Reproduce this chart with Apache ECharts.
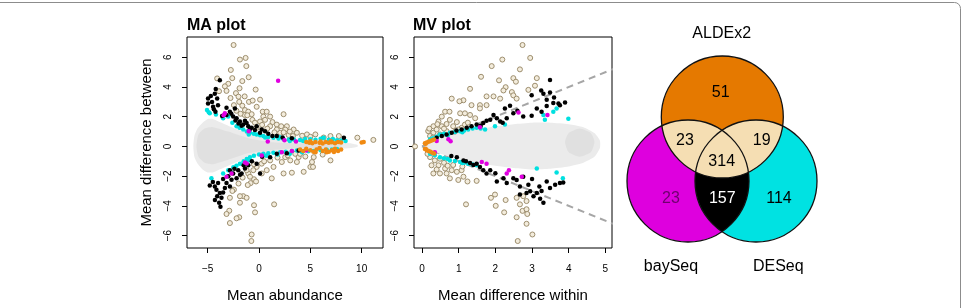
<!DOCTYPE html>
<html>
<head>
<meta charset="utf-8">
<script src="https://cdn.jsdelivr.net/npm/echarts@6/dist/echarts.min.js"></script>
<style>
  html, body { margin: 0; background: #fff; }
  #chart { width: 966px; height: 308px; }
</style>
</head>
<body>
<div id="chart"></div>
<script>
// ---- data ----
const yTicks = [-6, -4, -2, 0, 2, 4, 6];
const maTicks = [-5, 0, 5, 10];
const mvTicks = [0, 1, 2, 3, 4, 5];

// outline of the dense grey cloud of all features
const maCloud = [[-6.4,0],[-6.3,0.7],[-6.0,1.2],[-5.5,1.6],[-5.0,1.85],[-4.5,1.85],[-4.0,1.7],[-3.0,1.4],[-2.0,1.1],[-1.0,0.85],[0,0.65],[1,0.52],[2,0.45],[3,0.4],[4,0.36],[5,0.34],[6,0.32],[7,0.3],[8,0.28],[9,0.2],[9.6,0.1],
  [9.6,-0.02],[9,-0.1],[8,-0.15],[7,-0.2],[6,-0.22],[5,-0.25],[4,-0.28],[3,-0.32],[2,-0.38],[1,-0.46],[0,-0.58],[-1,-0.75],[-2,-1.0],[-3,-1.3],[-4,-1.6],[-4.5,-1.75],[-5,-1.75],[-5.5,-1.55],[-6,-1.15],[-6.3,-0.7]];
const maCore = [[-6.1,0],[-5.9,0.8],[-5.3,1.2],[-4.5,1.3],[-3,1.0],[-1,0.55],[1,0.3],[4,0.2],[8,0.15],[8,-0.05],[4,-0.12],[1,-0.25],[-1,-0.45],[-3,-0.9],[-4.5,-1.2],[-5.3,-1.1],[-5.9,-0.7]];
const mvCloud = [[0.08,0],[0.2,0.2],[0.5,0.55],[1,0.9],[1.5,1.15],[2,1.35],[2.5,1.5],[3,1.6],[3.5,1.6],[4,1.5],[4.4,1.3],[4.7,0.9],[4.85,0.4],
  [4.85,-0.1],[4.7,-0.7],[4.4,-1.1],[4,-1.35],[3.5,-1.5],[3,-1.55],[2.5,-1.45],[2,-1.3],[1.5,-1.1],[1,-0.85],[0.5,-0.5],[0.2,-0.2]];
const mvCore = [[3.9,0.3],[4.0,0.9],[4.3,1.2],[4.6,0.9],[4.7,0.3],[4.6,-0.4],[4.3,-0.7],[4.0,-0.4]];

const maTan = [[-2.48,6.83],[-1.86,5.85],[-1.31,5.96],[-1.24,5.41],[-2.75,5.15],[-1.01,4.66],[-4.08,4.58],[-2.61,4.6],[-1.63,4.4],[-3.0,4.22],[-1.9,3.92],[-3.33,4.05],[-0.33,3.83],[-3.9,3.72],[-3.17,3.74],[-2.25,3.59],[-2.0,3.35],[-1.4,3.37],[-2.78,3.26],[-0.98,3.0],[-0.62,3.09],[0.1,3.15],[-1.93,3.0],[-2.45,2.78],[-1.63,2.74],[-0.23,2.67],[-1.37,2.45],[-1.05,2.34],[0.36,2.34],[0.75,2.34],[-0.72,2.17],[-1.4,2.12],[-1.15,2.1],[2.39,2.17],[0.42,2.01],[1.08,2.01],[0.59,1.79],[-0.65,1.79],[0.1,1.68],[1.31,1.64],[1.73,1.47],[2.16,1.36],[2.71,1.36],[2.55,1.14],[3.37,1.14],[1.08,1.36],[-0.23,1.25],[3.69,0.92],[4.67,0.81],[5.49,0.81],[6.96,0.7],[7.78,0.7],[9.58,0.59],[11.14,0.44],[2.88,0.77],[2.06,0.92],[1.73,1.14],[0.8,1.2],[1.5,0.95],[2.4,0.95],[3.0,1.0],[4.2,0.72],[5.0,0.65],[3.3,0.7],[6.3,0.6],[-2.2,2.4],[-1.8,2.2],[-0.4,1.6],[0.3,1.45],
  [3.53,-0.5],[3.86,-0.72],[3.04,-0.94],[2.55,-0.72],[2.22,-1.05],[3.69,-1.05],[4.51,-0.68],[5.33,-0.72],[5.16,-1.05],[6.96,-0.94],[5.0,-1.38],[5.26,-1.38],[4.35,-1.71],[3.2,-1.77],[2.39,-1.82],[1.41,-1.38],[0.75,-1.6],[1.24,-2.15],[0.26,-1.82],[-0.23,-1.38],[-0.56,-1.6],[-1.05,-1.82],[-0.49,-2.21],[-0.82,-2.47],[-0.29,-2.36],[0.26,-1.16],[1.08,-0.94],[-1.54,-3.35],[-1.86,-3.35],[-1.21,-3.46],[-2.84,-3.46],[-1.86,-3.79],[-2.9,-4.33],[-3.17,-4.55],[-0.49,-3.96],[-0.39,-4.44],[1.47,-3.9],[-1.93,-4.77],[-2.19,-4.84],[-2.84,-5.16],[-0.72,-5.93],[-0.75,-6.37],[-1.21,-1.6],[-0.88,-2.04],[-2.45,-2.91],[1.8,-0.75],[2.8,-0.6],[0.5,-1.0],[-0.5,-1.2],[-1.6,-2.1],[-2.0,-2.5],[4.0,-0.5],[6.2,-0.55],[-1.1,-2.6],[-2.6,-3.0]];
const maBlack = [[-3.82,4.46],[-4.22,3.87],[-4.31,3.55],[-4.97,3.22],[-4.97,2.89],[-4.58,3.0],[-4.08,3.22],[-4.48,2.67],[-4.0,2.78],[-4.25,2.34],[-3.17,2.6],[-2.84,2.34],[-2.35,2.56],[-3.17,2.12],[-2.52,2.01],[-2.19,1.9],[-1.86,1.68],[-1.37,1.73],[-1.54,1.47],[-1.05,1.36],[-0.72,1.25],[-0.23,1.36],[0.26,1.14],[0.1,0.92],[0.59,1.03],[1.73,0.7],[8.27,0.59],[-1.21,1.57],[-0.4,1.1],[-4.7,3.4],[-4.4,2.5],[-2.7,2.2],[-2.0,1.55],[-1.7,1.4],[-0.9,1.15],[0.9,0.85],[1.3,0.7],[2.3,0.6],[3.2,0.55],[-3.6,2.05],[-2.3,1.75],
  [-4.8,-2.63],[-4.31,-2.69],[-3.99,-2.47],[-4.15,-2.91],[-3.82,-3.13],[-4.08,-3.35],[-3.66,-3.46],[-3.89,-3.79],[-3.76,-4.07],[-3.33,-2.8],[-3.17,-2.47],[-2.84,-2.69],[-2.68,-2.25],[-2.19,-2.15],[-2.03,-1.6],[-1.7,-1.82],[-1.37,-1.49],[-1.05,-1.27],[-1.5,-1.27],[-1.85,-1.9],[-2.52,-1.82],[-2.84,-1.6],[0.1,-1.82],[-0.23,-1.16],[1.08,-0.72],[1.73,-0.5],[2.71,-0.46],[3.86,-0.28],[-4.5,-2.4],[-3.5,-2.2],[-3.0,-2.0],[-2.4,-1.5],[-0.7,-1.0],[0.3,-0.7],[-4.3,-3.6],[-3.5,-3.1]];
const maCyan = [[-5.07,2.45],[-4.9,2.3],[-4.8,2.23],[-4.2,2.15],[-3.0,2.01],[-2.6,1.6],[-2.19,1.36],[-1.9,1.25],[-1.54,1.14],[-1.2,1.0],[-0.88,0.92],[-0.5,0.86],[-0.23,0.81],[0.1,0.75],[0.42,0.7],[0.9,0.64],[1.4,0.59],[1.9,0.53],[2.39,0.48],[2.9,0.47],[3.4,0.46],[4.0,0.44],[4.5,0.5],[5.0,0.48],[5.5,0.45],[6.0,0.52],[6.3,0.59],[6.8,0.45],[7.2,0.5],[7.6,0.42],[8.0,0.4],[8.43,0.37],[-3.5,1.9],[-1.0,0.8],[0.6,0.6],[2.0,0.62],[3.0,0.36],[4.3,0.36],
  [-4.64,-2.15],[-3.5,-1.82],[-3.0,-1.6],[-2.5,-1.4],[-2.2,-1.3],[-1.86,-1.16],[-1.5,-1.0],[-1.2,-0.85],[-0.88,-0.72],[-0.5,-0.62],[0.0,-0.55],[0.42,-0.5],[0.9,-0.46],[1.4,-0.43],[2.06,-0.39],[2.6,-0.35],[3.2,-0.3],[3.69,-0.28],[4.2,-0.4],[4.8,-0.32],[5.3,-0.3],[6.0,-0.25],[6.6,-0.22],[7.1,-0.2],[7.6,-0.18],[-2.7,-1.75],[-1.0,-0.95],[0.7,-0.62],[1.8,-0.55],[3.0,-0.5]];
const maMagenta = [[1.86,4.42],[-3.33,2.23],[-3.45,2.1],[0.85,0.33],[2.48,0.42],[3.6,0.33],[0.26,-0.61],[2.22,-0.39],[-1.37,-1.09],[-1.2,-1.15],[-2.68,-1.82],[-3.17,-2.04],[4.58,-0.28],[-1.0,1.02],[3.2,-0.3]];
const maOrange = [[4.6,0.3],[4.9,0.25],[5.2,0.22],[5.5,0.3],[5.9,0.25],[6.2,0.2],[6.5,0.3],[6.8,0.24],[7.1,0.28],[7.4,0.22],[7.7,0.3],[8.0,0.26],[10.0,0.27],[10.2,0.3],[5.0,0.35],[6.0,0.33],[7.0,0.35],
  [4.0,-0.2],[4.3,-0.3],[4.6,-0.15],[5.0,-0.25],[5.3,-0.35],[5.6,-0.2],[5.9,-0.1],[6.2,-0.3],[6.5,-0.2],[6.8,-0.35],[7.1,-0.25],[7.4,-0.15],[7.7,-0.3],[8.0,-0.2],[5.5,-0.4],[6.6,-0.4],[7.3,-0.38]];

const mvTan = [[2.74,6.83],[2.95,5.96],[2.19,5.85],[1.9,5.41],[2.67,5.19],[1.61,4.69],[2.1,4.45],[2.49,4.6],[2.56,4.36],[3.13,4.6],[1.31,3.88],[2.28,3.99],[2.22,3.77],[2.45,3.66],[2.49,3.44],[1.76,3.37],[1.95,3.37],[2.9,3.81],[3.08,4.09],[0.81,3.22],[1.13,3.11],[1.02,3.04],[2.13,3.22],[2.58,3.22],[1.58,2.78],[1.35,2.78],[1.76,2.78],[0.63,2.34],[0.75,2.34],[0.54,2.01],[1.04,2.23],[1.17,2.23],[1.31,2.12],[1.58,2.56],[0.45,1.68],[0.76,1.79],[0.95,1.64],[0.31,1.36],[0.54,1.36],[0.67,1.51],[0.85,1.36],[1.08,1.25],[0.17,1.03],[0.31,0.92],[0.4,1.14],[0.49,0.81],[0.67,1.03],[0.99,1.14],[1.17,1.47],[0.22,0.7],[0.3,0.6],[0.6,1.2],[0.9,1.0],[1.25,1.6],[1.45,1.9],[0.2,1.2],[0.42,1.5],[-0.19,0],
  [0.22,-0.72],[0.35,-0.94],[0.49,-0.83],[0.26,-1.27],[0.45,-1.27],[0.63,-1.49],[0.81,-1.6],[0.31,-1.82],[0.49,-1.82],[0.67,-1.82],[0.95,-1.71],[1.08,-1.6],[0.76,-2.15],[0.99,-2.26],[1.13,-2.04],[1.24,-2.36],[1.49,-2.32],[1.2,-3.9],[1.88,-3.46],[1.99,-3.24],[2.01,-4.0],[2.28,-3.61],[2.24,-4.44],[2.58,-3.46],[2.67,-3.9],[2.74,-4.34],[2.85,-4.23],[2.87,-4.55],[2.58,-4.77],[2.85,-5.21],[3.01,-5.93],[2.61,-6.37],[2.76,-3.35],[2.85,-3.68],[0.15,-0.5],[0.6,-1.1],[0.85,-1.25],[1.1,-1.35],[0.4,-1.55],[0.7,-1.3]];
const mvBlack = [[3.49,4.47],[2.99,3.44],[3.25,3.77],[3.31,3.55],[3.4,3.15],[3.49,3.63],[3.58,2.93],[3.72,2.89],[3.9,2.96],[3.76,2.78],[2.49,2.23],[2.76,2.01],[2.99,2.06],[2.4,2.74],[2.26,2.56],[1.95,2.12],[2.04,1.9],[2.13,1.68],[2.31,1.9],[1.86,1.79],[1.67,1.58],[1.76,1.73],[1.49,1.47],[1.35,1.36],[1.22,1.25],[1.08,1.14],[0.94,1.07],[0.81,0.92],[0.67,0.81],[0.54,0.7],[0.4,0.59],[3.4,2.73],[3.26,2.34],[3.13,2.56],[2.2,1.6],[1.6,1.4],[2.6,2.4],[3.6,3.3],
  [0.95,-0.72],[1.13,-0.94],[1.31,-1.12],[1.49,-1.16],[1.58,-1.38],[1.67,-1.6],[1.86,-1.6],[1.76,-1.82],[2.04,-2.36],[2.22,-2.15],[2.31,-2.47],[2.49,-2.15],[2.58,-2.26],[2.67,-2.69],[2.76,-2.04],[2.9,-2.58],[2.95,-3.02],[2.85,-3.13],[3.04,-3.35],[3.13,-3.13],[3.22,-3.52],[3.31,-3.79],[3.2,-2.69],[3.4,-2.36],[3.49,-2.8],[3.63,-2.58],[3.76,-2.47],[3.85,-2.43],[2.67,-3.24],[3.26,-3.0],[1.2,-1.0],[1.4,-1.25],[2.0,-1.8],[3.0,-2.2],[0.8,-0.65]];
const mvCyan = [[0.22,0.48],[0.3,0.55],[0.4,0.65],[0.49,0.81],[0.6,0.85],[0.76,0.92],[0.9,0.98],[1.04,1.03],[1.15,1.08],[1.26,1.14],[1.38,1.2],[1.49,1.25],[1.6,1.2],[1.72,1.14],[1.99,1.36],[2.26,1.47],[3.31,2.12],[3.35,1.79],[3.58,2.34],[3.67,2.56],[3.99,1.86],[0.7,0.75],[1.1,0.95],
  [0.22,-0.5],[0.35,-0.6],[0.49,-0.72],[0.6,-0.8],[0.76,-0.94],[0.9,-0.98],[1.04,-1.05],[1.15,-1.1],[1.26,-1.16],[1.38,-1.22],[1.49,-1.27],[3.13,-1.49],[3.67,-1.75],[3.84,-2.15],[0.7,-0.85],[1.1,-1.12]];
const mvMagenta = [[0.4,0.37],[0.72,0.48],[0.78,0.35],[1.58,1.29],[2.63,2.28],[3.42,2.12],[0.35,-0.39],[1.63,-1.05],[1.76,-1.16],[2.31,-1.82],[2.37,-1.6],[2.72,-2.04]];
const mvOrange = [[0.08,0.22],[0.13,0.27],[0.18,0.32],[0.23,0.37],[0.28,0.42],[0.33,0.46],[0.1,0.18],[0.08,-0.18],[0.13,-0.25],[0.18,-0.3],[0.23,-0.36],[0.28,-0.42],[0.33,-0.47],[0.1,-0.15]];
const mvGuideSlopes = [1, -1];

const vennSets = ['ALDEx2', 'baySeq', 'DESeq'];
// only-ALDEx2, ALDEx2&baySeq, ALDEx2&DESeq, all three, only-baySeq, baySeq&DESeq, only-DESeq
const vennCounts = [51, 23, 19, 314, 23, 157, 114];

// ---- drawing ----
const FONT = '"Liberation Sans", Arial, sans-serif';
const chart = echarts.init(document.getElementById('chart'), null, {renderer: 'canvas'});
const minus = v => (v < 0 ? '\u2212' + (-v) : String(v));

function xAxis(gi, min, max, ticks, name) {
  return {
    type: 'value', gridIndex: gi, min: min, max: max,
    name: name, nameLocation: 'middle', nameGap: 40,
    nameTextStyle: {fontSize: 15, color: '#000', fontFamily: FONT},
    axisLine: {show: false, onZero: false},
    axisTick: {show: true, length: 5, customValues: ticks, lineStyle: {color: '#000'}},
    axisLabel: {customValues: ticks, fontSize: 10, color: '#000', fontFamily: FONT, margin: 16, formatter: minus},
    splitLine: {show: false}
  };
}
function yAxis(gi, name) {
  return {
    type: 'value', gridIndex: gi, min: -6.84, max: 7.37,
    name: name, nameLocation: 'middle', nameGap: 33, nameRotate: 90,
    nameTextStyle: {fontSize: 15, color: '#000', fontFamily: FONT},
    axisLine: {show: false, onZero: false},
    axisTick: {show: true, length: 5, customValues: yTicks, lineStyle: {color: '#000'}},
    axisLabel: {customValues: yTicks, fontSize: 10, color: '#000', fontFamily: FONT, margin: 14, rotate: 90, formatter: minus},
    splitLine: {show: false}
  };
}
function cloud(gi, pts, color, z) {
  return {
    type: 'custom', xAxisIndex: gi, yAxisIndex: gi, z: z, silent: true,
    data: [pts[0]],
    renderItem: function (params, api) {
      return {type: 'polygon', shape: {points: pts.map(p => api.coord(p)), smooth: 0.2}, style: {fill: color}};
    }
  };
}
function dots(gi, data, style, size, z) {
  return {type: 'scatter', xAxisIndex: gi, yAxisIndex: gi, data: data, symbol: 'circle',
    symbolSize: size, itemStyle: Object.assign({opacity: 1}, style), z: z, silent: true};
}
const tanStyle = {color: '#f3ecdc', borderColor: '#9d8e6e', borderWidth: 1};

function layer(gi, sets) {
  return [
    cloud(gi, sets.cloud, '#ebebeb', 2),
    cloud(gi, sets.core, '#e0e0e0', 3),
    dots(gi, sets.tan, tanStyle, 5, 5),
    dots(gi, sets.cyan, {color: '#00e0e0'}, 4.5, 6),
    dots(gi, sets.black, {color: '#000'}, 4.5, 7),
    dots(gi, sets.magenta, {color: '#e000e0'}, 4.5, 8),
    dots(gi, sets.orange, {color: '#f08a12'}, 4.5, 9)
  ];
}

const series = layer(0, {cloud: maCloud, core: maCore, tan: maTan, cyan: maCyan, black: maBlack, magenta: maMagenta, orange: maOrange})
  .concat(layer(1, {cloud: mvCloud, core: mvCore, tan: mvTan, cyan: mvCyan, black: mvBlack, magenta: mvMagenta, orange: mvOrange}));
mvGuideSlopes.forEach(function (s) {
  series.push({type: 'line', xAxisIndex: 1, yAxisIndex: 1, data: [[0, 0], [5.4, 5.4 * s]], symbol: 'none', z: 1,
    silent: true, lineStyle: {color: '#a6a6a6', width: 2, type: [7, 5]}});
});

// Venn diagram geometry
const R = 61;
const C = [[722.3, 117], [688, 181], [756, 181]];
const vennColor = ['#e57900', '#de00de', '#00e2e2'];
function lens(a, b) {
  const d = Math.hypot(b[0] - a[0], b[1] - a[1]);
  const t = Math.atan2(b[1] - a[1], b[0] - a[0]);
  const al = Math.acos(d / (2 * R));
  const pts = [];
  for (let i = 0; i <= 40; i++) {
    const th = t - al + 2 * al * i / 40;
    pts.push([a[0] + R * Math.cos(th), a[1] + R * Math.sin(th)]);
  }
  for (let i = 0; i <= 40; i++) {
    const th = t + Math.PI - al + 2 * al * i / 40;
    pts.push([b[0] + R * Math.cos(th), b[1] + R * Math.sin(th)]);
  }
  return pts;
}
const circ = (c, fill, stroke) => ({type: 'circle', shape: {cx: c[0], cy: c[1], r: R},
  style: {fill: fill, stroke: stroke, lineWidth: 1.3}, silent: true});
const poly = (pts, fill) => ({type: 'polygon', shape: {points: pts}, style: {fill: fill}, silent: true});
const txt = (s, x, y, color) => ({type: 'text', x: x, y: y, silent: true,
  style: {text: String(s), fill: color, font: '16px ' + FONT, textAlign: 'center', textVerticalAlign: 'middle'}});

const countPos = [[720.7, 93], [685, 141], [761.7, 141], [721.7, 162], [671, 199], [722.3, 199], [779, 199]];
const countColor = ['#000', '#000', '#000', '#000', '#6e006e', '#fff', '#000'];
const setPos = [[721.7, 34], [671, 267], [778.3, 267]];

const graphic = [
  {type: 'rect', shape: {x: -10, y: 2.5, width: 970.5, height: 330, r: 6}, style: {fill: 'none', stroke: '#8c8c8c', lineWidth: 1}, silent: true},
  circ(C[1], vennColor[1], 'none'),
  circ(C[2], vennColor[2], 'none'),
  poly(lens(C[1], C[2]), '#000'),
  circ(C[0], vennColor[0], 'none'),
  poly(lens(C[0], C[1]), '#f5deb3'),
  poly(lens(C[0], C[2]), '#f5deb3'),
  circ(C[0], 'none', '#111'),
  circ(C[1], 'none', '#111'),
  circ(C[2], 'none', '#111')
];
vennCounts.forEach((n, i) => graphic.push(txt(n, countPos[i][0], countPos[i][1], countColor[i])));
vennSets.forEach((s, i) => graphic.push(txt(s, setPos[i][0], setPos[i][1], '#000')));

const option = {
  animation: false,
  backgroundColor: '#fff',
  title: [
    {text: 'MA plot', left: 187, top: 18, padding: 0, textStyle: {fontSize: 16, fontWeight: 'bold', color: '#000', fontFamily: FONT}},
    {text: 'MV plot', left: 413, top: 18, padding: 0, textStyle: {fontSize: 16, fontWeight: 'bold', color: '#000', fontFamily: FONT}}
  ],
  grid: [
    {left: 187, top: 37, width: 196, height: 216, show: true, borderColor: '#000', borderWidth: 1, backgroundColor: 'transparent'},
    {left: 414, top: 37, width: 198, height: 216, show: true, borderColor: '#000', borderWidth: 1, backgroundColor: 'transparent'}
  ],
  xAxis: [xAxis(0, -7.02, 12.08, maTicks, 'Mean abundance'), xAxis(1, -0.218, 5.18, mvTicks, 'Mean difference within')],
  yAxis: [yAxis(0, 'Mean difference between'), yAxis(1, '')],
  series: series,
  graphic: graphic
};
chart.setOption(option);
</script>
</body>
</html>
